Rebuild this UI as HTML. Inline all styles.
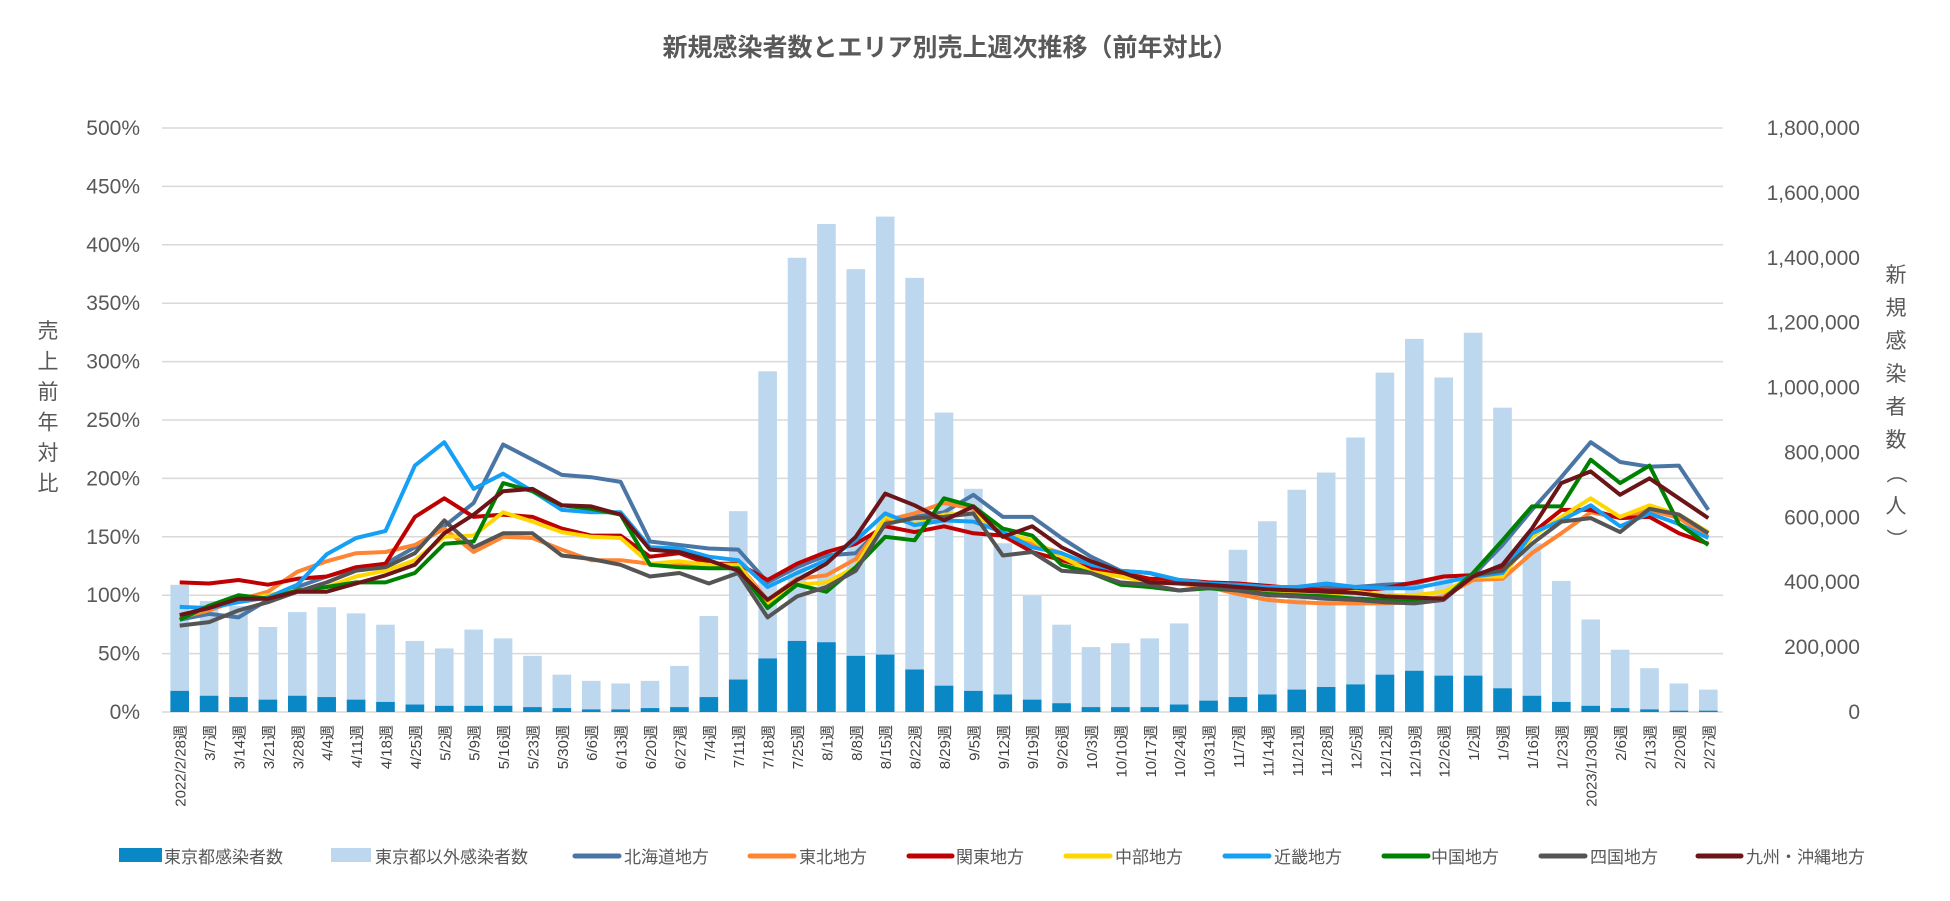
<!DOCTYPE html>
<html><head><meta charset="utf-8"><style>
body{margin:0;background:#fff;}
svg{display:block;font-family:"Liberation Sans","Noto Sans CJK JP",sans-serif;}
</style></head><body>
<svg id="chart" width="1950" height="901" viewBox="0 0 1950 901">
<text x="950" y="56" text-anchor="middle" font-size="25" font-weight="bold" fill="#595959">新規感染者数とエリア別売上週次推移（前年対比）</text>
<g id="grid"></g>
<g id="bars"></g>
<g id="lines"></g>
<g id="yl"></g>
<g id="yr"></g>
<g id="xl"></g>
<g id="lt" font-size="21" fill="#595959"></g>
<g id="rt" font-size="21" fill="#595959"></g>
<g id="legend"></g>
</svg>
<script>
const categories=["2022/2/28週","3/7週","3/14週","3/21週","3/28週","4/4週","4/11週","4/18週","4/25週","5/2週","5/9週","5/16週","5/23週","5/30週","6/6週","6/13週","6/20週","6/27週","7/4週","7/11週","7/18週","7/25週","8/1週","8/8週","8/15週","8/22週","8/29週","9/5週","9/12週","9/19週","9/26週","10/3週","10/10週","10/17週","10/24週","10/31週","11/7週","11/14週","11/21週","11/28週","12/5週","12/12週","12/19週","12/26週","1/2週","1/9週","1/16週","1/23週","2023/1/30週","2/6週","2/13週","2/20週","2/27週"];
const tokyoCases=[65,50,46,38,50,46,38,31,23,19,19,19,15,12,8,8,12,15,46,100,165,219,215,173,177,131,81,65,54,38,27,15,15,15,23,35,46,54,69,77,85,115,127,112,112,73,50,31,19,12,8,4,4];
const totalCases=[392,342,327,262,308,323,304,269,219,196,254,227,173,115,96,88,96,142,296,619,1050,1400,1504,1365,1527,1338,923,688,520,358,269,200,212,227,273,385,500,588,685,738,846,1046,1150,1031,1169,938,520,404,285,192,135,88,69];
const hokkaido=[79,84,81,96,107,116,123,127,141,159,179,229,216,203,201,197,146,143,140,139,111,124,134,136,161,167,171,186,167,167,149,133,121,119,111,110,107,104,106,107,107,109,110,116,117,143,173,201,231,214,210,211,173];
const tohoku=[81,87,96,103,120,129,136,137,143,157,137,150,149,139,130,130,127,127,126,126,96,114,117,131,164,170,179,174,150,144,136,124,120,114,110,107,101,96,94,93,93,93,94,99,113,114,136,153,171,166,173,166,150];
const kanto=[111,110,113,109,114,116,124,127,167,183,167,169,167,157,151,151,133,136,127,127,113,127,137,144,159,154,159,153,151,137,130,123,119,114,113,111,110,108,106,104,104,106,111,116,117,124,153,173,173,166,167,153,144];
const chubu=[80,90,96,100,104,107,116,121,130,150,151,171,163,154,150,149,127,129,126,126,93,109,111,124,167,161,169,170,153,147,133,120,116,111,110,109,106,103,103,101,103,100,100,103,116,116,150,167,183,167,177,169,154];
const kinki=[90,89,94,98,109,135,149,155,211,231,191,204,189,173,171,171,141,140,133,130,107,119,130,147,170,160,164,163,154,141,136,126,121,119,113,110,109,107,107,110,107,106,106,111,116,119,153,164,177,159,170,161,149];
const chugoku=[79,91,100,97,104,107,111,111,119,144,146,196,189,177,174,169,126,124,123,123,89,109,103,124,150,147,183,176,157,151,126,119,109,107,104,106,104,101,100,99,97,96,96,97,119,147,176,176,216,196,211,161,143];
const shikoku=[74,77,87,94,103,111,121,124,136,164,141,153,153,134,131,126,116,119,110,119,81,99,107,121,161,166,167,170,134,137,121,119,111,109,104,107,104,100,99,97,96,94,93,96,117,121,144,163,166,154,174,169,153];
const kyushu=[83,89,97,97,103,103,110,117,126,153,169,189,191,177,176,169,139,137,130,121,96,113,127,150,187,177,164,176,150,159,141,129,120,111,110,109,107,105,104,103,102,99,98,97,116,126,157,196,206,186,200,183,166];
const leftTicks=["0%","50%","100%","150%","200%","250%","300%","350%","400%","450%","500%"];
const rightTicks=["0","200,000","400,000","600,000","800,000","1,000,000","1,200,000","1,400,000","1,600,000","1,800,000"];

const NS="http://www.w3.org/2000/svg";
const L=165,R=1723,T=128,B=712;
const band=(R-L)/categories.length;
const xc=i=>L+band*(i+0.5);
const yP=p=>B-(p/500)*(B-T);
const yC=k=>B-(k/1800)*(B-T);
function mk(tag,attrs,parent,txt){const e=document.createElementNS(NS,tag);for(const k in attrs)e.setAttribute(k,attrs[k]);if(txt!==undefined)e.textContent=txt;parent.appendChild(e);return e;}
const g=id=>document.getElementById(id);

leftTicks.forEach((t,i)=>{const y=yP(i*50);
 const ln=mk('line',{x1:L-3,x2:R,y1:y,y2:y,stroke:'#d9d9d9','stroke-width':1.5},g('grid'));
 
 
 const tx=mk('text',{x:140,y:y+7,'text-anchor':'end','font-size':21,fill:'#595959'},g('yl'),t);
 
 
});
rightTicks.forEach((t,i)=>{const y=yC(i*200);
 const tx=mk('text',{x:1860,y:y+7,'text-anchor':'end','font-size':21,fill:'#595959'},g('yr'),t);
 
 
});
const bw=18.6;
categories.forEach((c,i)=>{
 const x=xc(i);
 const r1=mk('rect',{x:x-bw/2,y:yC(totalCases[i]),width:bw,height:B-yC(totalCases[i]),fill:'#bdd7ee'},g('bars'));
 
 
 const r2=mk('rect',{x:x-bw/2,y:yC(tokyoCases[i]),width:bw,height:B-yC(tokyoCases[i]),fill:'#0a88c6'},g('bars'));
 
 
 const tx=mk('text',{transform:`translate(${x+6},725) rotate(-90)`,'text-anchor':'end','font-size':15,fill:'#404040'},g('xl'),c);
 
 
});
const series=[["北海道地方",hokkaido,"#4a76a6","line-hokkaido"],["東北地方",tohoku,"#ff8533","line-tohoku"],["関東地方",kanto,"#c00000","line-kanto"],["中部地方",chubu,"#ffd700","line-chubu"],["近畿地方",kinki,"#15a0f5","line-kinki"],["中国地方",chugoku,"#008000","line-chugoku"],["四国地方",shikoku,"#555555","line-shikoku"],["九州・沖縄地方",kyushu,"#6b1518","line-kyushu"]];
series.forEach(s=>{
 const pts=s[1].map((v,i)=>xc(i).toFixed(1)+','+yP(v).toFixed(1)).join(' ');
 const pl=mk('polyline',{points:pts,fill:'none',stroke:s[2],'stroke-width':4,'stroke-linejoin':'round'},g('lines'));
 
 
});
"売上前年対比".split('').forEach((ch,i)=>{mk('text',{x:48,y:338+i*30.5,'text-anchor':'middle'},g('lt'),ch);});
"新規感染者数（人）".split('').forEach((ch,i)=>{
 const t=mk('text',{x:1896,y:282+i*33,'text-anchor':'middle'},g('rt'),ch);
 if(ch==='（'||ch==='）'){t.setAttribute('transform',`rotate(90 1896 ${282+i*33-7})`);}
});
const leg=[["東京都感染者数","#0a88c6",119,162,164,"box"],["東京都以外感染者数","#bdd7ee",331,371,375,"box"],["北海道地方","#4a76a6",575,619,624,"line"],["東北地方","#ff8533",750,794,799,"line"],["関東地方","#c00000",909,952,956,"line"],["中部地方","#ffd700",1066,1110,1115,"line"],["近畿地方","#15a0f5",1225,1269,1274,"line"],["中国地方","#008000",1384,1428,1431,"line"],["四国地方","#555555",1541,1585,1590,"line"],["九州・沖縄地方","#6b1518",1698,1741,1746,"line"]];
leg.forEach(l=>{
 const it=mk('g',{},g('legend'));
 
 
 if(l[5]==='box')mk('rect',{x:l[2],y:848,width:l[3]-l[2],height:14,fill:l[1]},it);
 else mk('line',{x1:l[2],x2:l[3],y1:856,y2:856,stroke:l[1],'stroke-width':5,'stroke-linecap':'round'},it);
 mk('text',{x:l[4],y:863,'font-size':17,fill:'#595959'},it,l[0]);
});
</script>
</body></html>
